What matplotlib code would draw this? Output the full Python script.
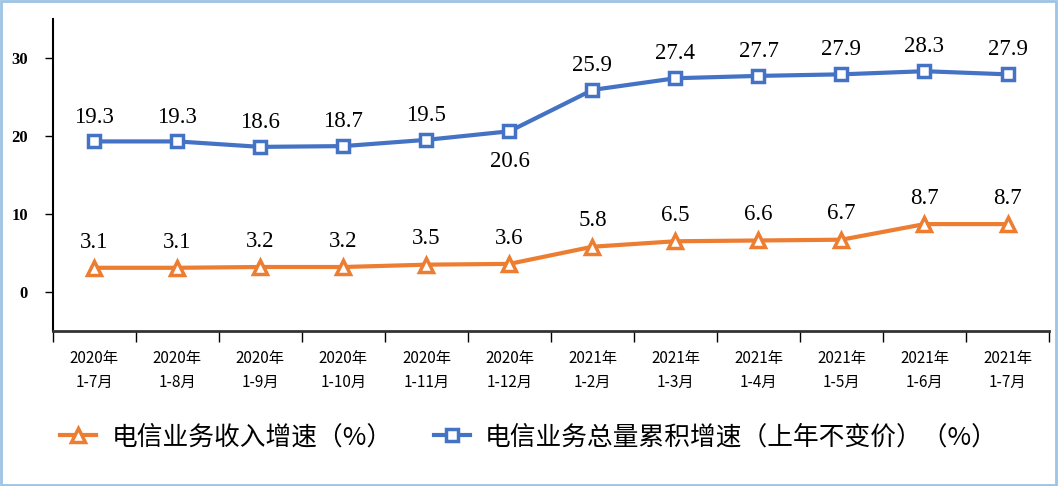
import numpy as np
import matplotlib
matplotlib.use("Agg")
import matplotlib.pyplot as plt
from matplotlib.patches import Rectangle

plt.rcParams['font.family'] = ['Noto Sans CJK SC', 'DejaVu Sans']

# data
periods = ["2020年\n1-7月", "2020年\n1-8月", "2020年\n1-9月", "2020年\n1-10月",
           "2020年\n1-11月", "2020年\n1-12月", "2021年\n1-2月", "2021年\n1-3月",
           "2021年\n1-4月", "2021年\n1-5月", "2021年\n1-6月", "2021年\n1-7月"]
revenue_growth = [3.1, 3.1, 3.2, 3.2, 3.5, 3.6, 5.8, 6.5, 6.6, 6.7, 8.7, 8.7]
volume_growth = [19.3, 19.3, 18.6, 18.7, 19.5, 20.6, 25.9, 27.4, 27.7, 27.9, 28.3, 27.9]
revenue_name = "电信业务收入增速（%）"
volume_name = "电信业务总量累积增速（上年不变价）（%）"

ORANGE = "#ED7D31"
BLUE = "#4472C4"
SERIF = ["Liberation Serif", "DejaVu Serif"]

fig = plt.figure(figsize=(10.58, 4.86), dpi=100)
ax = fig.add_axes([0.050, 0.319, 0.9415, 0.642])

x = np.arange(len(periods))
l1, = ax.plot(x, revenue_growth, color=ORANGE, lw=3, marker="^", ms=10,
              mfc="white", mec=ORANGE, mew=2.5, label=revenue_name)
l2, = ax.plot(x, volume_growth, color=BLUE, lw=3, marker="s", ms=9,
              mfc="white", mec=BLUE, mew=2.5, label=volume_name)

# data labels
for xi, v in zip(x, revenue_growth):
    ax.annotate(f"{v:.1f}", (xi, v), xytext=(0, 11), textcoords="offset points",
                ha="center", va="bottom", fontsize=16.5, family=SERIF)
for i, (xi, v) in enumerate(zip(x, volume_growth)):
    # the 2020 1-12 label sits under its point
    if i == 5:
        ax.annotate(f"{v:.1f}", (xi, v), xytext=(0, -14), textcoords="offset points",
                    ha="center", va="top", fontsize=16.5, family=SERIF)
    else:
        ax.annotate(f"{v:.1f}", (xi, v), xytext=(0, 10), textcoords="offset points",
                    ha="center", va="bottom", fontsize=16.5, family=SERIF)

ax.set_xlim(-0.5, len(periods) - 0.5)
ax.set_ylim(-5, 35)
ax.set_yticks([0, 10, 20, 30])
for lab in ax.get_yticklabels():
    lab.set_family(SERIF)
    lab.set_fontweight("bold")
    lab.set_fontsize(12)
ax.tick_params(axis="y", length=6, width=1, pad=12)

# category boundaries get the ticks, centres get the labels
ax.set_xticks(np.arange(-0.5, len(periods)))
ax.set_xticklabels([])
ax.set_xticks(x, minor=True)
ax.set_xticklabels(periods, minor=True, fontsize=11, linespacing=1.5)
ax.tick_params(axis="x", which="major", length=8, width=1, direction="out")
ax.tick_params(axis="x", which="minor", length=0, pad=14)

for s in ["top", "right"]:
    ax.spines[s].set_visible(False)
ax.spines["left"].set_linewidth(1.5)
ax.spines["bottom"].set_linewidth(2)
ax.spines["bottom"].set_color("#333333")

fig.legend(handles=[l1, l2], loc="center", bbox_to_anchor=(0.5, 0.1),
           ncol=2, frameon=False, fontsize=18.5, handlelength=1.4,
           columnspacing=1.6, handletextpad=0.6)

fig.patches.append(Rectangle((0.001, 0.002), 0.997, 0.995, transform=fig.transFigure,
                             fill=False, ec="#9DC3E6", lw=2))

fig.savefig("out.png", dpi=100)
